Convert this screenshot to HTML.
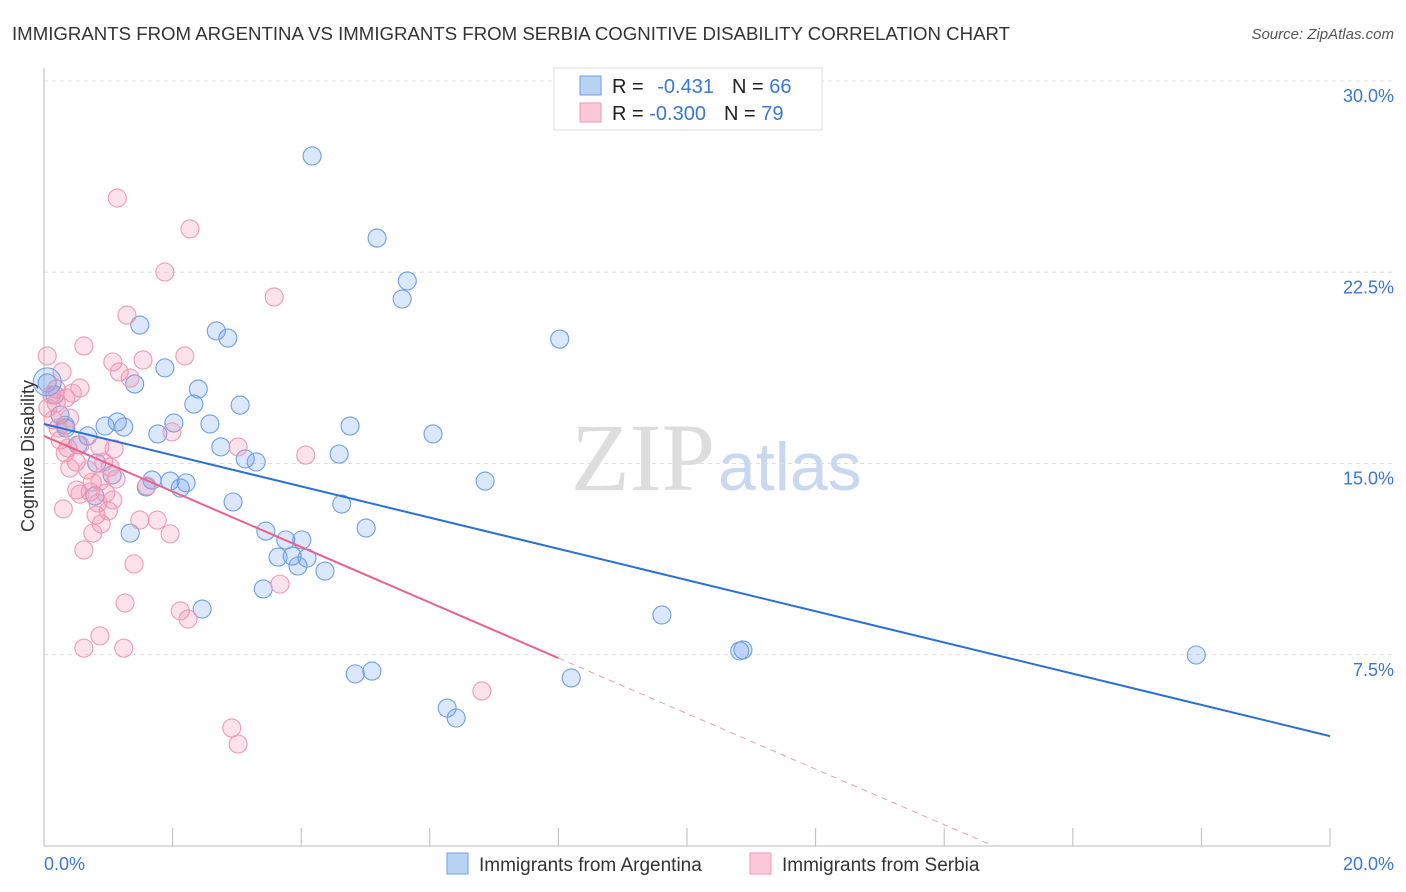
<!DOCTYPE html>
<html><head><meta charset="utf-8"><style>
body{margin:0;background:#fff;font-family:"Liberation Sans",sans-serif;}
svg{display:block}
</style></head><body>
<svg id="chart" width="1406" height="892" viewBox="0 0 1406 892" xmlns="http://www.w3.org/2000/svg">
<text x="12" y="40" font-size="18" fill="#333" textLength="998" lengthAdjust="spacingAndGlyphs">IMMIGRANTS FROM ARGENTINA VS IMMIGRANTS FROM SERBIA COGNITIVE DISABILITY CORRELATION CHART</text>
<text x="1394" y="39" font-size="15" fill="#555" font-style="italic" text-anchor="end">Source: ZipAtlas.com</text>
<text x="715" y="490" font-size="96" fill="#ddd" text-anchor="end" font-family="Liberation Serif,serif">ZIP</text>
<text x="718" y="490" font-size="68" fill="#c8d8f0">atlas</text>
<g id="grid"></g><g id="axes"></g>
<g id="pts"></g><g id="lines"></g>
<text transform="translate(34,456) rotate(-90)" font-size="18" fill="#333" text-anchor="middle">Cognitive Disability</text>
<g>
<rect x="554" y="68" width="268" height="62" fill="#fff" stroke="#ddd"/>
<rect x="580" y="76" width="21" height="19" fill="#b9d3f5" stroke="#6d9ee6"/>
<rect x="580" y="103" width="21" height="19" fill="#fcc9d8" stroke="#ee9ab4"/>
<text x="612" y="93" font-size="20" fill="#222">R = <tspan fill="#3a76d6" dx="8">-0.431</tspan><tspan dx="18" fill="#222">N = </tspan><tspan fill="#3a76d6">66</tspan></text>
<text x="612" y="120" font-size="20" fill="#222">R = <tspan fill="#3a76d6">-0.300</tspan><tspan dx="18" fill="#222">N = </tspan><tspan fill="#3a76d6">79</tspan></text>
</g>
<g>
<rect x="447" y="853" width="21" height="21" fill="#b9d3f5" stroke="#6d9ee6"/>
<text x="479" y="871" font-size="19" fill="#333">Immigrants from Argentina</text>
<rect x="750" y="853" width="21" height="21" fill="#fcc9d8" stroke="#ee9ab4"/>
<text x="782" y="871" font-size="19" fill="#333">Immigrants from Serbia</text>
</g>
<text x="44" y="870" font-size="18" fill="#3a76d6">0.0%</text>
<text x="1394" y="870" font-size="18" fill="#3a76d6" text-anchor="end">20.0%</text>
</svg>
<script>
const blueX=[4.17,5.18,5.65,5.57,8.02,1.49,2.68,2.86,1.88,1.41,2.40,2.33,3.05,2.02,2.58,1.14,1.24,0.95,1.77,4.76,6.05,0.68,0.34,0.53,2.75,4.59,3.13,3.30,6.86,1.68,1.96,2.21,2.12,1.59,1.06,0.82,0.79,2.94,4.63,5.01,3.45,1.34,3.76,4.01,3.64,3.86,4.09,3.95,4.37,3.41,2.46,9.61,10.82,10.87,17.92,4.84,5.1,8.2,6.27,6.41,0.05,0.17,0.25,0.33];
const blueY=[27.06,23.84,22.16,21.45,19.88,20.43,20.2,19.92,18.75,18.12,17.92,17.33,17.29,16.59,16.55,16.63,16.43,16.47,16.16,16.47,16.16,16.08,16.39,15.73,15.65,15.37,15.18,15.06,14.31,14.35,14.31,14.24,14.04,14.08,14.55,15.02,13.73,13.49,13.41,12.47,12.35,12.27,12.0,12.0,11.33,11.37,11.29,10.98,10.78,10.08,9.29,9.06,7.65,7.69,7.49,6.75,6.86,6.59,5.41,5.02,18.16,17.69,16.9,16.5];
const pinkX=[1.14,2.27,1.88,3.58,1.29,0.62,0.05,2.19,1.54,1.07,1.17,1.34,0.56,0.44,0.19,0.12,0.19,0.34,0.40,0.14,1.99,3.02,4.07,0.25,0.37,0.56,0.87,1.09,0.33,0.50,0.93,1.03,0.40,0.68,0.75,0.87,1.12,0.51,0.72,0.56,0.96,1.07,0.84,1.6,0.30,0.81,1.0,1.49,1.76,0.89,1.96,0.76,0.62,1.40,3.67,1.26,2.12,2.24,0.87,0.62,1.24,6.81,2.92,3.02,0.28,0.06,0.22];
const pinkY=[25.41,24.2,22.51,21.53,20.82,19.61,19.22,19.22,19.06,18.98,18.59,18.35,17.96,17.76,17.92,17.69,17.37,17.57,16.78,16.71,16.24,15.65,15.33,15.92,15.61,15.73,15.65,15.57,15.41,15.06,15.06,14.86,14.82,14.75,14.27,14.31,14.39,13.96,13.88,13.8,13.84,13.57,13.45,14.12,13.22,12.98,13.14,12.78,12.78,12.63,12.24,12.27,11.61,11.06,10.27,9.53,9.22,8.9,8.24,7.76,7.76,6.08,4.63,4.0,18.59,17.18,16.39];
const yTicks=[7.5,15,22.5,30];
const yTickLabels=["7.5%","15.0%","22.5%","30.0%"];
const blueLine=[16.55,4.31];
const pinkLine=[16.08,7.37];
const pinkSolidEnd=8.0;
const NS="http://www.w3.org/2000/svg";
const X=v=>44+v*64.3, Y=v=>846-v*25.5;
function mk(t,a,p){const e=document.createElementNS(NS,t);for(const k in a)e.setAttribute(k,a[k]);p.appendChild(e);return e;}
const grid=document.getElementById('grid'),axes=document.getElementById('axes'),pts=document.getElementById('pts'),lines=document.getElementById('lines');
yTicks.forEach((t,i)=>{
 const l=mk('line',{x1:44,x2:1394,y1:Y(t),y2:Y(t),stroke:'#ddd','stroke-dasharray':'4,4'},grid);
 
 
 const tx=mk('text',{x:1394,y:Y(t)+21,'font-size':18,fill:'#3a76d6','text-anchor':'end'},axes);
 tx.textContent=yTickLabels[i];
 
 
});
mk('line',{x1:44,x2:44,y1:68,y2:846,stroke:'#bbb'},axes);
mk('line',{x1:44,x2:1330,y1:846,y2:846,stroke:'#bbb'},axes);
for(let v=0;v<=20;v+=2){const l=mk('line',{x1:X(v),x2:X(v),y1:828,y2:846,stroke:'#bbb'},axes);
 
 }
function dots(xs,ys,fill,stroke,name){xs.forEach((x,i)=>{
 const c=mk('circle',{cx:X(x),cy:Y(ys[i]),r:9,fill:fill,stroke:stroke,'stroke-width':1.1},pts);
 
 });}
dots(blueX,blueY,'rgba(110,160,235,0.25)','#6d9ee6','point-argentina');
dots(pinkX,pinkY,'rgba(245,140,170,0.25)','#ee9ab4','point-serbia');
const big=mk('circle',{cx:X(0.05),cy:Y(18.2),r:14,fill:'rgba(110,160,235,0.25)',stroke:'#6d9ee6'},pts);


const bl=mk('line',{x1:X(0),y1:Y(blueLine[0]),x2:X(20),y2:Y(blueLine[1]),stroke:'#2b6fd8','stroke-width':2},lines);


const slope=(pinkLine[1]-pinkLine[0])/pinkSolidEnd;
const pl=mk('line',{x1:X(0),y1:Y(pinkLine[0]),x2:X(pinkSolidEnd),y2:Y(pinkLine[1]),stroke:'#e8638e','stroke-width':2},lines);


const xz=-pinkLine[0]/slope;
const pd=mk('line',{x1:X(pinkSolidEnd),y1:Y(pinkLine[1]),x2:X(xz),y2:Y(0),stroke:'#e8a0b8','stroke-width':1,'stroke-dasharray':'6,5'},lines);


</script>
</body></html>
